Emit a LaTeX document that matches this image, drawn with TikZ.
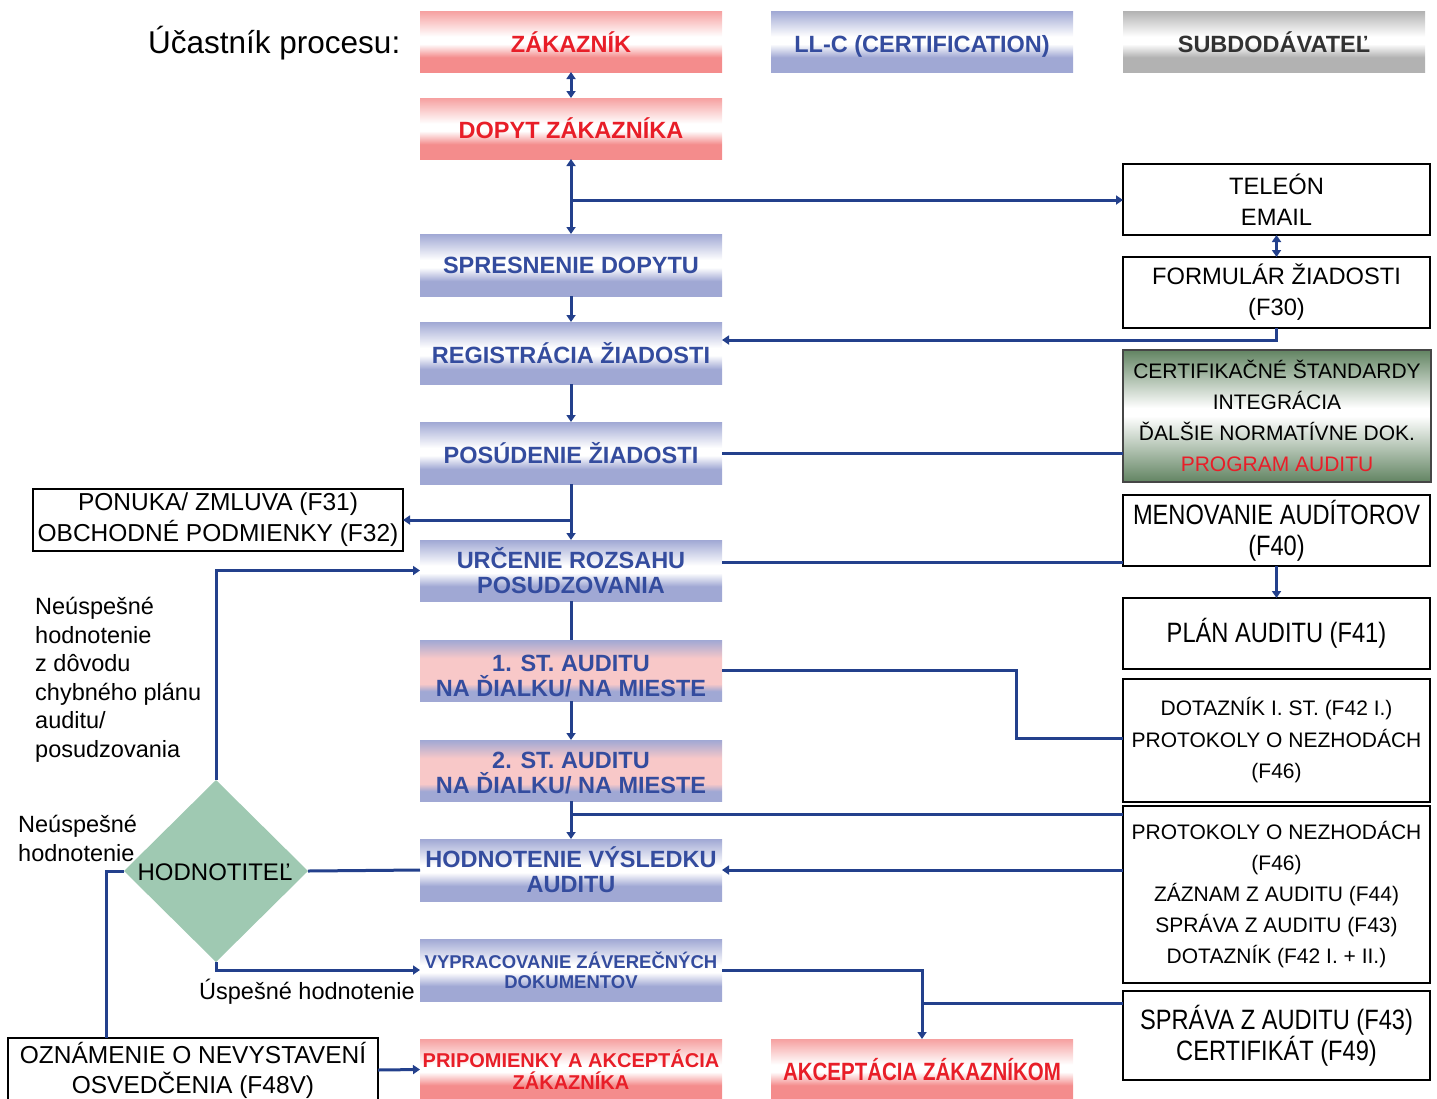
\documentclass[tikz,border=0pt]{standalone}
\usepackage{fontspec}
\setmainfont{Liberation Sans}
\newfontfamily\narrowf[FakeStretch=0.845]{Liberation Sans}
\newfontfamily\narrowbf[FakeStretch=0.82]{Liberation Sans}
\usetikzlibrary{arrows.meta,shapes.geometric}

\definecolor{conncol}{RGB}{35,64,140}
\definecolor{redtxt}{RGB}{232,30,40}
\definecolor{bluetxt}{RGB}{52,76,158}
\definecolor{rsh}{RGB}{244,140,140}
\definecolor{rshtop}{RGB}{246,160,160}
\definecolor{bsh}{RGB}{160,168,212}
\definecolor{psh}{RGB}{248,200,200}
\definecolor{gsh}{RGB}{178,178,178}
\definecolor{grsh}{RGB}{98,132,98}
\definecolor{diag}{RGB}{159,201,178}
\definecolor{darktxt}{RGB}{50,50,50}
\definecolor{certborder}{RGB}{70,70,70}

\pgfdeclareverticalshading{redsh}{100bp}{color(0bp)=(rsh); color(25bp)=(rsh); color(37bp)=(rsh); color(48bp)=(white); color(54bp)=(white); color(75bp)=(rshtop); color(100bp)=(rshtop)}
\pgfdeclareverticalshading{bluesh}{100bp}{color(0bp)=(bsh); color(25bp)=(bsh); color(37bp)=(bsh); color(48bp)=(white); color(54bp)=(white); color(75bp)=(bsh); color(100bp)=(bsh)}
\pgfdeclareverticalshading{graysh}{100bp}{color(0bp)=(gsh); color(25bp)=(gsh); color(37bp)=(gsh); color(48bp)=(white); color(54bp)=(white); color(75bp)=(gsh); color(100bp)=(gsh)}
\pgfdeclareverticalshading{pbsh}{100bp}{color(0bp)=(bsh); color(25bp)=(bsh); color(33bp)=(bsh); color(39bp)=(psh); color(60bp)=(psh); color(75bp)=(bsh); color(100bp)=(bsh)}
\pgfdeclareverticalshading{greensh}{100bp}{color(0bp)=(grsh); color(25bp)=(grsh); color(50bp)=(white); color(53bp)=(white); color(75bp)=(grsh); color(100bp)=(grsh)}

\tikzset{
  boxbase/.style={rectangle, inner sep=0pt, outer sep=0pt, align=center},
  redbox/.style={boxbase, shade, shading=redsh, text=redtxt, minimum width=302pt, minimum height=61pt, font=\bfseries\fontsize{23.5}{25}\selectfont},
  bluebox/.style={boxbase, shade, shading=bluesh, text=bluetxt, minimum width=302pt, minimum height=62pt, font=\bfseries\fontsize{23.5}{25}\selectfont},
  pbbox/.style={boxbase, shade, shading=pbsh, text=bluetxt, minimum width=302pt, minimum height=61pt, font=\bfseries\fontsize{23.5}{25}\selectfont},
  graybox/.style={boxbase, shade, shading=graysh, text=darktxt, minimum width=302pt, minimum height=61pt, font=\bfseries\fontsize{23.5}{25}\selectfont},
  hdr/.style={text height=22pt, text depth=0pt},
  wbox/.style={boxbase, draw=black, line width=2.4pt, fill=white, minimum width=307pt, font=\fontsize{23.7}{31}\selectfont},
  nbox/.style={wbox, font=\narrowf\fontsize{28}{31}\selectfont},
  sbox/.style={wbox, font=\fontsize{21}{31.5}\selectfont},
  greenbox/.style={boxbase, draw=certborder, line width=2.6pt, shade, shading=greensh, minimum width=308pt, minimum height=132pt, font=\fontsize{21}{31}\selectfont},
  cline/.style={draw=conncol, line width=3pt},
  arr/.style={-{Triangle[length=7pt,width=9pt]}},
  darr/.style={{Triangle[length=7pt,width=9pt]}-{Triangle[length=7pt,width=9pt]}},
  lbl/.style={align=left, inner sep=0pt, font=\fontsize{23.5}{28.5}\selectfont}
}

\begin{document}
\begin{tikzpicture}[x=1pt,y=-1pt]
\useasboundingbox (0,0) rectangle (1437,1098);

% header
\node[anchor=base west, inner sep=0pt, font=\fontsize{31.5}{36}\selectfont] (title) at (148,53) {Účastník procesu:};
\node[redbox, hdr] (zak) at (571,41.5) {ZÁKAZNÍK};
\node[bluebox, hdr, minimum height=61pt] (llc) at (922,41.5) {LL-C (CERTIFICATION)};
\node[graybox, hdr] (sub) at (1274,41.5) {SUBDODÁVATEĽ};

% main column
\node[redbox] (dop) at (571,128.5) {DOPYT ZÁKAZNÍKA};
\node[bluebox] (spr1) at (571,265) {SPRESNENIE DOPYTU};
\node[bluebox] (reg) at (571,353) {REGISTRÁCIA ŽIADOSTI};
\node[bluebox] (pos) at (571,453) {POSÚDENIE ŽIADOSTI};
\node[bluebox, minimum height=61pt] (urc) at (571,570.5) {URČENIE ROZSAHU\\POSUDZOVANIA};
\node[pbbox] (st1) at (571,670.5) {\rule{0pt}{27pt}1. ST. AUDITU\\NA ĎIALKU/ NA MIESTE};
\node[pbbox] (st2) at (571,770.5) {\rule{0pt}{21pt}2. ST. AUDITU\\NA ĎIALKU/ NA MIESTE};
\node[bluebox] (hod) at (571,870) {HODNOTENIE VÝSLEDKU\\AUDITU};
\node[bluebox, font=\bfseries\fontsize{18.5}{20}\selectfont] (vyp) at (571,970) {VYPRACOVANIE ZÁVEREČNÝCH\\DOKUMENTOV};
\node[redbox, font=\bfseries\fontsize{20}{22}\selectfont] (prip) at (571,1069.5) {PRIPOMIENKY A AKCEPTÁCIA\\ZÁKAZNÍKA};
\node[redbox, font=\narrowbf\bfseries\fontsize{25}{27}\selectfont] (akc) at (922,1069.5) {AKCEPTÁCIA ZÁKAZNÍKOM};

% right column
\node[wbox, minimum height=71pt] (tel) at (1276.5,199.5) {TELEÓN\\EMAIL};
\node[wbox, minimum height=71pt] (form) at (1276.5,292.5) {FORMULÁR ŽIADOSTI\\(F30)};
\node[greenbox] (cert) at (1277,416) {CERTIFIKAČNÉ ŠTANDARDY\\INTEGRÁCIA\\ĎALŠIE NORMATÍVNE DOK.\\\textcolor{redtxt}{PROGRAM AUDITU}};
\node[nbox, minimum height=71pt] (men) at (1276.5,530.5) {MENOVANIE AUDÍTOROV\\(F40)};
\node[nbox, minimum height=71pt] (plan) at (1276.5,633.5) {PLÁN AUDITU (F41)};
\node[sbox, minimum height=123pt] (dot) at (1276.5,740.5) {DOTAZNÍK I. ST. (F42 I.)\\PROTOKOLY O NEZHODÁCH\\(F46)};
\node[sbox, minimum height=177pt, font=\fontsize{21}{31}\selectfont] (prot) at (1276.5,894.5) {PROTOKOLY O NEZHODÁCH\\(F46)\\ZÁZNAM Z AUDITU (F44)\\SPRÁVA Z AUDITU (F43)\\DOTAZNÍK (F42 I. + II.)};
\node[nbox, minimum height=89pt] (sprava) at (1276.5,1035.5) {SPRÁVA Z AUDITU (F43)\\CERTIFIKÁT (F49)};

% left side
\node[wbox, minimum width=370pt, minimum height=62pt, font=\fontsize{24.5}{31}\selectfont] (pon) at (218,520) {PONUKA/ ZMLUVA (F31)\\OBCHODNÉ PODMIENKY (F32)};
\node[wbox, minimum width=370pt, minimum height=64pt, font=\fontsize{24.5}{30}\selectfont] (ozn) at (193,1070) {OZNÁMENIE O NEVYSTAVENÍ\\OSVEDČENIA (F48V)};
\node[diamond, fill=diag, minimum width=184pt, minimum height=182pt, inner sep=0pt, outer sep=0pt] (dia) at (216,871) {};
\node[inner sep=0pt, font=\fontsize{24}{28}\selectfont] (diat) at (215,872) {HODNOTITEĽ};

\node[lbl, anchor=north west] (lab1) at (35,597) {Neúspešné\\hodnotenie\\z dôvodu\\chybného plánu\\auditu/\\posudzovania};
\node[lbl, anchor=north west] (lab2) at (18,815) {Neúspešné\\hodnotenie};
\node[lbl, anchor=base west] (lab3) at (199,999) {Úspešné hodnotenie};

% connectors
\draw[cline,darr] (zak) -- (dop);
\draw[cline,darr] (dop) -- (spr1);
\coordinate (j1) at (571,200);
\draw[cline,arr] (j1) -- (j1 -| tel.west);
\draw[cline,arr] (spr1) -- (reg);
\draw[cline,darr] (tel) -- (form);
\coordinate (j2) at (1276.5,340);
\draw[cline,arr] (form.south) -- (j2) -- (j2 -| reg.east);
\draw[cline,arr] (reg) -- (pos);
\draw[cline] (pos.east) -- (pos.east -| cert.west);
\draw[cline,arr] (pos) -- (urc);
\coordinate (j3) at (571,520);
\draw[cline,arr] (j3) -- (j3 -| pon.east);
\path (urc.east) ++(0,-8.5) coordinate (j4);
\draw[cline] (j4) -- (j4 -| men.west);
\draw[cline,arr] (men) -- (plan);
\draw[cline] (urc) -- (st1);
\coordinate (j5) at (1016,738);
\draw[cline] (st1.east) -| (j5) -- (j5 -| dot.west);
\draw[cline,arr] (st1) -- (st2);
\draw[cline,arr] (st2) -- (hod);
\coordinate (j6) at (571,814);
\draw[cline] (j6) -- (j6 -| prot.west);
\draw[cline,arr] (hod.east -| prot.west) -- (hod.east);
\draw[cline] (hod.west) -- (dia.east);
\draw[cline,arr] (dia.north) |- (urc.west);
\draw[cline,arr] (dia.south) |- (vyp.west);
\coordinate (j7) at (106,871);
\draw[cline] (dia.west) -- (j7) -- (j7 |- ozn.north);
\draw[cline,arr] (ozn.east) -- (prip.west);
\draw[cline,arr] (vyp.east) -| (akc.north);
\coordinate (j8) at (922,1003);
\draw[cline] (j8 -| sprava.west) -- (j8);
\end{tikzpicture}
\end{document}
